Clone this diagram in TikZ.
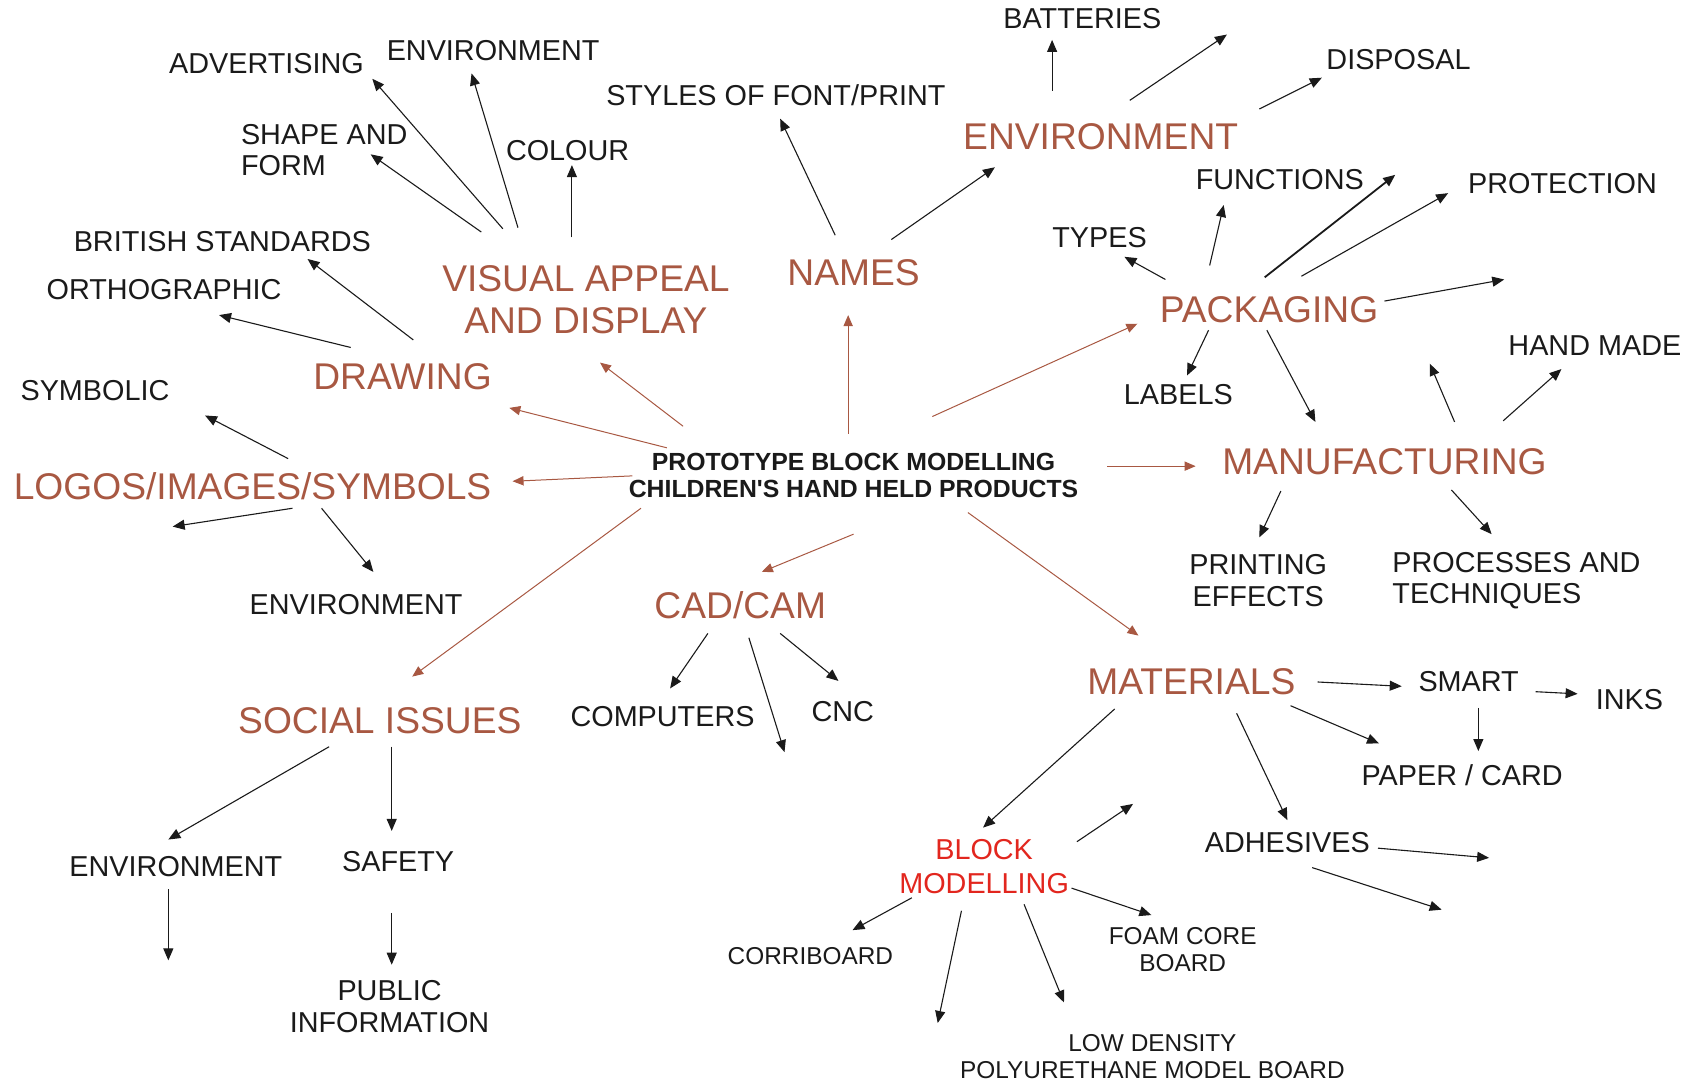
\documentclass[tikz,border=0pt]{standalone}
\usepackage{fontspec}
\setmainfont{Liberation Sans}
\usepackage{xcolor}
\usepackage{tikz}
\usetikzlibrary{arrows.meta, calc}
\definecolor{topicbrown}{RGB}{168,88,66}
\definecolor{blockred}{RGB}{226,38,30}
\definecolor{inkblack}{RGB}{26,26,26}

\begin{document}
\begin{tikzpicture}[x=0.5396pt, y=-0.5396pt,
		lbl/.style={inner sep=0pt, text=inkblack, font=\fontsize{14.4}{15.8}\selectfont},
		minor/.style={inner sep=0pt, text=inkblack, font=\fontsize{12.2}{13.8}\selectfont},
		topic/.style={inner sep=0pt, text=topicbrown, font=\fontsize{18.6}{21}\selectfont},
		hub/.style={inner sep=0pt, text=inkblack, font=\bfseries\fontsize{12.4}{13.5}\selectfont, align=center},
		blk/.style={draw=inkblack, line width=0.55pt, -{Triangle[length=6pt,width=5pt]}},
		brn/.style={draw=topicbrown, line width=0.5pt, -{Triangle[length=5.5pt,width=4.6pt]}}]
		\useasboundingbox (0,0) rectangle (1568,1005);
		
		% centre
		\node[hub] (hub) at (791,441) {PROTOTYPE BLOCK MODELLING\\CHILDREN\textquotesingle S HAND HELD PRODUCTS};
		
		% main topics
		\node[topic, align=center] (visual) at (543,278) {VISUAL APPEAL\\AND DISPLAY};
		\node[topic] (drawing) at (373,349) {DRAWING};
		\node[topic] (logos) at (234,451) {LOGOS/IMAGES/SYMBOLS};
		\node[topic] (social) at (352,668) {SOCIAL ISSUES};
		\node[topic] (cadcam) at (686,561) {CAD/CAM};
		\node[topic] (names) at (791,253) {NAMES};
		\node[topic] (envtopic) at (1020,127) {ENVIRONMENT};
		\node[topic] (packaging) at (1176,287) {PACKAGING};
		\node[topic] (manufacturing) at (1283,428) {MANUFACTURING};
		\node[topic] (materials) at (1104,632) {MATERIALS};
		\node[lbl, text=blockred, align=center, font=\fontsize{14.4}{16.7}\selectfont] (block) at (912,803) {BLOCK\\MODELLING};
		
		% sub topics
		\node[lbl] (advertising) at (247,59) {ADVERTISING};
		\node[lbl] (envvisual) at (457,47) {ENVIRONMENT};
		\node[lbl, align=left, anchor=west] (shape) at (223,139) {SHAPE AND\\FORM};
		\node[lbl] (colour) at (526,140) {COLOUR};
		\node[lbl] (british) at (206,224) {BRITISH STANDARDS};
		\node[lbl] (ortho) at (152,268) {ORTHOGRAPHIC};
		\node[lbl] (symbolic) at (88,362) {SYMBOLIC};
		\node[lbl] (envlogos) at (330,560) {ENVIRONMENT};
		\node[lbl] (envsocial) at (163,803) {ENVIRONMENT};
		\node[lbl] (safety) at (369,798) {SAFETY};
		\node[lbl, align=center] (public) at (361,933) {PUBLIC\\INFORMATION};
		\node[lbl] (computers) at (614,664) {COMPUTERS};
		\node[lbl] (cnc) at (781,659) {CNC};
		\node[lbl] (styles) at (719,88) {STYLES OF FONT/PRINT};
		\node[lbl] (batteries) at (1003,17) {BATTERIES};
		\node[lbl] (disposal) at (1296,55) {DISPOSAL};
		\node[lbl] (types) at (1019,220) {TYPES};
		\node[lbl] (functions) at (1186,166) {FUNCTIONS};
		\node[lbl] (protection) at (1448,170) {PROTECTION};
		\node[lbl] (labels) at (1092,366) {LABELS};
		\node[lbl] (handmade) at (1478,320) {HAND MADE};
		\node[lbl, align=center] (printing) at (1166,538) {PRINTING\\EFFECTS};
		\node[lbl, align=left, anchor=west] (processes) at (1290,538) {PROCESSES AND\\TECHNIQUES};
		\node[lbl] (smart) at (1361,632) {SMART};
		\node[lbl] (inks) at (1510,648) {INKS};
		\node[lbl] (paper) at (1355,718) {PAPER / CARD};
		\node[lbl] (adhesives) at (1193,781) {ADHESIVES};
		\node[minor, align=center] (foam) at (1096,880) {FOAM CORE\\BOARD};
		\node[minor] (corriboard) at (751,886) {CORRIBOARD};
		\node[minor, align=center] (lowdensity) at (1068,979) {LOW DENSITY\\POLYURETHANE MODEL BOARD};
		
		% loose arrow ends
		\coordinate (logosfree) at (160,488);
		\coordinate (envfree) at (1137,32);
		\coordinate (packfreeA) at (1293,162);
		\coordinate (packfreeB) at (1394,259);
		\coordinate (manufree) at (1325,337);
		\coordinate (adhfreeA) at (1380,795);
		\coordinate (adhfreeB) at (1336,843);
		\coordinate (blockfreeA) at (1050,745);
		\coordinate (blockfreeB) at (869,948);
		\coordinate (cadfree) at (727,697);
		\coordinate (socialfree) at (156,890);
		
		% from the centre
		\draw[brn] ($(hub)+(-158,-46)$) -- ($(visual)+(13,58)$);
		\draw[brn] ($(hub)+(-173,-26)$) -- ($(drawing)+(99,29)$);
		\draw[brn] ($(hub)+(-205,0)$) -- ($(logos)+(241,-5)$);
		\draw[brn] ($(hub)+(-197,30)$) -- ($(social)+(30,-41)$);
		\draw[brn] ($(hub)+(-5,-39)$) -- ($(names)+(-5,39)$);
		\draw[brn] ($(hub)+(73,-55)$) -- ($(packaging)+(-122,13)$);
		\draw[brn] ($(hub)+(235,-9)$) -- ($(manufacturing)+(-175,4)$);
		\draw[brn] ($(hub)+(106,34)$) -- ($(materials)+(-49,-43)$);
		\draw[brn] ($(hub)+(0,54)$) -- ($(cadcam)+(20,-31)$);
		
		% visual appeal, drawing, logos
		\draw[blk] ($(visual)+(-77,-66)$) -- ($(advertising)+(98,14)$);
		\draw[blk] ($(visual)+(-63,-67)$) -- ($(envvisual)+(-20,21)$);
		\draw[blk] ($(visual)+(-97,-63)$) -- ($(shape)+(43,4)$);
		\draw[blk] ($(visual)+(-13,-58)$) -- ($(colour)+(4,13)$);
		\draw[blk] ($(drawing)+(10,-34)$) -- ($(british)+(79,16)$);
		\draw[blk] ($(drawing)+(-48,-27)$) -- ($(ortho)+(51,24)$);
		\draw[blk] ($(logos)+(33,-26)$) -- ($(symbolic)+(102,23)$);
		\draw[blk] ($(logos)+(37,20)$) -- (logosfree);
		\draw[blk] ($(logos)+(64,20)$) -- ($(envlogos)+(16,-30)$);
		
		% names, environment
		\draw[blk] ($(names)+(-17,-35)$) -- ($(styles)+(4,22)$);
		\draw[blk] ($(names)+(35,-31)$) -- ($(envtopic)+(-98,28)$);
		\draw[blk] ($(envtopic)+(-45,-43)$) -- ($(batteries)+(-28,20)$);
		\draw[blk] ($(envtopic)+(27,-34)$) -- (envfree);
		\draw[blk] ($(envtopic)+(147,-26)$) -- ($(disposal)+(-71,17)$);
		
		% packaging
		\draw[blk] ($(packaging)+(-96,-28)$) -- ($(types)+(23,18)$);
		\draw[blk] ($(packaging)+(-55,-41)$) -- ($(functions)+(-52,24)$);
		\draw[blk, line width=0.9pt] ($(packaging)+(-4,-30)$) -- (packfreeA);
		\draw[blk] ($(packaging)+(30,-31)$) -- ($(protection)+(-106,9)$);
		\draw[blk] ($(packaging)+(107,-8)$) -- (packfreeB);
		\draw[blk] ($(packaging)+(-56,19)$) -- ($(labels)+(8,-18)$);
		\draw[blk] ($(packaging)+(-2,19)$) -- ($(manufacturing)+(-64,-37)$);
		
		% manufacturing
		\draw[blk] ($(manufacturing)+(65,-37)$) -- (manufree);
		\draw[blk] ($(manufacturing)+(110,-38)$) -- ($(handmade)+(-31,22)$);
		\draw[blk] ($(manufacturing)+(-96,27)$) -- ($(printing)+(1,-40)$);
		\draw[blk] ($(manufacturing)+(62,26)$) -- ($(processes)+(-23,-43)$);
		
		% materials
		\draw[blk] ($(materials)+(117,0)$) -- ($(smart)+(-62,4)$);
		\draw[blk] ($(smart)+(62,9)$) -- ($(inks)+(-48,-5)$);
		\draw[blk] ($(smart)+(9,24)$) -- ($(paper)+(15,-22)$);
		\draw[blk] ($(materials)+(92,22)$) -- ($(paper)+(-77,-29)$);
		\draw[blk] ($(materials)+(42,29)$) -- ($(adhesives)+(0,-21)$);
		\draw[blk] ($(materials)+(-71,25)$) -- ($(block)+(-1,-36)$);
		\draw[blk] ($(adhesives)+(84,5)$) -- (adhfreeA);
		\draw[blk] ($(adhesives)+(23,23)$) -- (adhfreeB);
		
		% block modelling
		\draw[blk] ($(block)+(86,-23)$) -- (blockfreeA);
		\draw[blk] ($(block)+(81,20)$) -- ($(foam)+(-29,-32)$);
		\draw[blk] ($(block)+(-67,29)$) -- ($(corriboard)+(39,-24)$);
		\draw[blk] ($(block)+(-21,41)$) -- (blockfreeB);
		\draw[blk] ($(block)+(37,35)$) -- ($(lowdensity)+(-82,-50)$);
		
		% cad/cam
		\draw[blk] ($(cadcam)+(-30,26)$) -- ($(computers)+(7,-26)$);
		\draw[blk] ($(cadcam)+(8,30)$) -- (cadfree);
		\draw[blk] ($(cadcam)+(37,26)$) -- ($(cnc)+(-4,-28)$);
		
		% social issues
		\draw[blk] ($(social)+(-47,24)$) -- ($(envsocial)+(-7,-25)$);
		\draw[blk] ($(social)+(11,24)$) -- ($(safety)+(-6,-28)$);
		\draw[blk] ($(envsocial)+(-7,21)$) -- (socialfree);
		\draw[blk] ($(safety)+(-6,48)$) -- ($(public)+(2,-39)$);
		
		\end{tikzpicture}
\end{document}
